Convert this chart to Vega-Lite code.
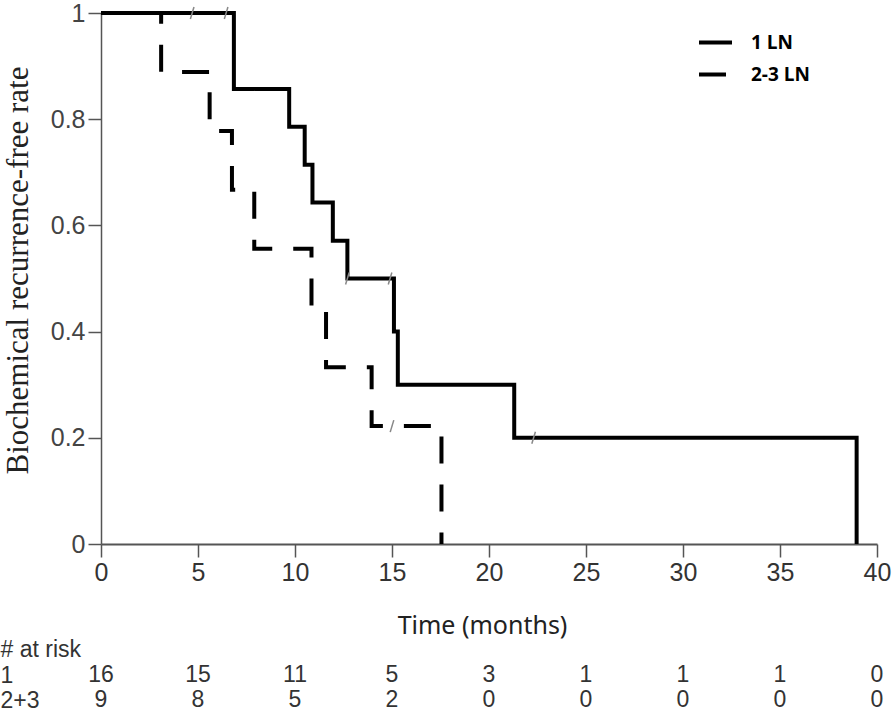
{
  "$schema": "https://vega.github.io/schema/vega-lite/v6.json",
  "width": 776,
  "height": 531,
  "autosize": {"type": "none"},
  "padding": {"left": 101, "top": 13, "right": 19, "bottom": 172},
  "background": "white",
  "config": {"view": {"stroke": null}, "axis": {"grid": false}},
  "datasets": {
    "curves": [
      {"group": "1 LN", "time": 0, "surv": 1},
      {"group": "1 LN", "time": 6.85, "surv": 0.857},
      {"group": "1 LN", "time": 9.7, "surv": 0.786},
      {"group": "1 LN", "time": 10.5, "surv": 0.714},
      {"group": "1 LN", "time": 10.9, "surv": 0.643},
      {"group": "1 LN", "time": 11.95, "surv": 0.571},
      {"group": "1 LN", "time": 12.7, "surv": 0.5},
      {"group": "1 LN", "time": 15.1, "surv": 0.4},
      {"group": "1 LN", "time": 15.3, "surv": 0.3},
      {"group": "1 LN", "time": 21.3, "surv": 0.2},
      {"group": "1 LN", "time": 38.95, "surv": 0},
      {"group": "2-3 LN", "time": 0, "surv": 1},
      {"group": "2-3 LN", "time": 3.1, "surv": 0.889},
      {"group": "2-3 LN", "time": 5.6, "surv": 0.778},
      {"group": "2-3 LN", "time": 6.75, "surv": 0.667},
      {"group": "2-3 LN", "time": 7.9, "surv": 0.556},
      {"group": "2-3 LN", "time": 10.85, "surv": 0.444},
      {"group": "2-3 LN", "time": 11.6, "surv": 0.333},
      {"group": "2-3 LN", "time": 13.95, "surv": 0.222},
      {"group": "2-3 LN", "time": 17.55, "surv": 0}
    ],
    "censor": [
      {"group": "1 LN", "time": 4.7, "surv": 1},
      {"group": "1 LN", "time": 6.45, "surv": 1},
      {"group": "1 LN", "time": 12.7, "surv": 0.5},
      {"group": "1 LN", "time": 14.9, "surv": 0.5},
      {"group": "1 LN", "time": 22.3, "surv": 0.2},
      {"group": "2-3 LN", "time": 15.0, "surv": 0.222}
    ],
    "risk": [
      {"group": "1", "time": 0, "n": 16},
      {"group": "1", "time": 5, "n": 15},
      {"group": "1", "time": 10, "n": 11},
      {"group": "1", "time": 15, "n": 5},
      {"group": "1", "time": 20, "n": 3},
      {"group": "1", "time": 25, "n": 1},
      {"group": "1", "time": 30, "n": 1},
      {"group": "1", "time": 35, "n": 1},
      {"group": "1", "time": 40, "n": 0},
      {"group": "2+3", "time": 0, "n": 9},
      {"group": "2+3", "time": 5, "n": 8},
      {"group": "2+3", "time": 10, "n": 5},
      {"group": "2+3", "time": 15, "n": 2},
      {"group": "2+3", "time": 20, "n": 0},
      {"group": "2+3", "time": 25, "n": 0},
      {"group": "2+3", "time": 30, "n": 0},
      {"group": "2+3", "time": 35, "n": 0},
      {"group": "2+3", "time": 40, "n": 0}
    ]
  },
  "layer": [
    {
      "layer": [
        {
          "data": {"name": "curves"},
          "mark": {"type": "line", "interpolate": "step-after", "color": "black", "strokeWidth": 4, "strokeJoin": "miter", "strokeCap": "butt", "strokeDashOffset": 4},
          "encoding": {
            "x": {
              "field": "time", "type": "quantitative",
              "scale": {"domain": [0, 40], "nice": false, "zero": false},
              "axis": {
                "values": [0, 5, 10, 15, 20, 25, 30, 35, 40],
                "labelFlush": false,
                "labelFont": "Liberation Sans Narrow, Arial Narrow, Liberation Sans, sans-serif",
                "labelFontSize": 25,
                "labelColor": "#333",
                "labelPadding": 3,
                "tickSize": 13,
                "tickColor": "#555",
                "tickWidth": 1.5,
                "domainColor": "#555",
                "domainWidth": 2,
                "title": "Time (months)",
                "titleFont": "Noto Sans",
                "titleFontSize": 25,
                "titleFontWeight": "normal",
                "titleColor": "#222",
                "titleX": 381,
                "titleY": 81,
                "titleAlign": "center",
                "titleBaseline": "middle"
              }
            },
            "y": {
              "field": "surv", "type": "quantitative",
              "scale": {"domain": [0, 1], "nice": false},
              "axis": {
                "values": [0, 0.2, 0.4, 0.6, 0.8, 1],
                "format": "~g",
                "labelFont": "Liberation Sans Narrow, Arial Narrow, Liberation Sans, sans-serif",
                "labelFontSize": 25,
                "labelColor": "#444",
                "labelPadding": 3,
                "tickSize": 13,
                "tickColor": "#555",
                "tickWidth": 1.5,
                "domainColor": "#555",
                "domainWidth": 1.5,
                "title": "Biochemical recurrence-free rate",
                "titleFont": "Liberation Serif",
                "titleFontSize": 31,
                "titleFontWeight": "normal",
                "titleColor": "#222",
                "titleAngle": -90,
                "titleX": -83,
                "titleY": 257,
                "titleAlign": "center",
                "titleBaseline": "middle"
              }
            },
            "strokeDash": {
              "field": "group", "type": "nominal",
              "scale": {"domain": ["1 LN", "2-3 LN"], "range": [[1, 0], [27, 21]]},
              "legend": {
                "title": null,
                "orient": "none",
                "legendX": 596,
                "legendY": 11,
                "symbolType": "stroke",
                "symbolSize": 1089,
                "symbolStrokeWidth": 4,
                "symbolStrokeColor": "black",
                "labelFont": "Open Sans",
                "labelFontSize": 19,
                "labelFontWeight": "bold",
                "labelColor": "black",
                "labelOffset": 17,
                "rowPadding": 3,
                "padding": 0
              }
            }
          }
        },
        {
          "data": {"name": "censor"},
          "mark": {"type": "point", "shape": "M-0.3,1L0.3,-1", "filled": false, "stroke": "#888", "strokeWidth": 1.5, "size": 144, "opacity": 1},
          "encoding": {
            "x": {"field": "time", "type": "quantitative"},
            "y": {"field": "surv", "type": "quantitative"}
          }
        }
      ]
    },
    {
      "data": {"name": "risk"},
      "mark": {"type": "text", "font": "Liberation Sans Narrow, Arial Narrow, Liberation Sans, sans-serif", "fontSize": 23, "color": "#333", "align": "center", "baseline": "middle"},
      "encoding": {
        "x": {"field": "time", "type": "quantitative"},
        "y": {
          "field": "group", "type": "nominal",
          "scale": {"type": "point", "domain": ["1", "2+3"], "range": [662, 687], "padding": 0},
          "axis": {
            "orient": "left",
            "domain": false,
            "ticks": false,
            "tickSize": 0,
            "grid": false,
            "labelAlign": "left",
            "labelBaseline": "middle",
            "labelPadding": 101,
            "labelFont": "Liberation Sans Narrow, Arial Narrow, Liberation Sans, sans-serif",
            "labelFontSize": 23,
            "labelColor": "#333",
            "title": "# at risk",
            "titleAngle": 0,
            "titleAlign": "left",
            "titleBaseline": "middle",
            "titleX": -101,
            "titleY": 636,
            "titleFont": "Liberation Sans Narrow, Arial Narrow, Liberation Sans, sans-serif",
            "titleFontSize": 23,
            "titleFontWeight": "normal",
            "titleColor": "#333"
          }
        },
        "text": {"field": "n", "type": "quantitative"}
      }
    }
  ],
  "resolve": {"scale": {"y": "independent"}, "axis": {"y": "independent"}}
}
